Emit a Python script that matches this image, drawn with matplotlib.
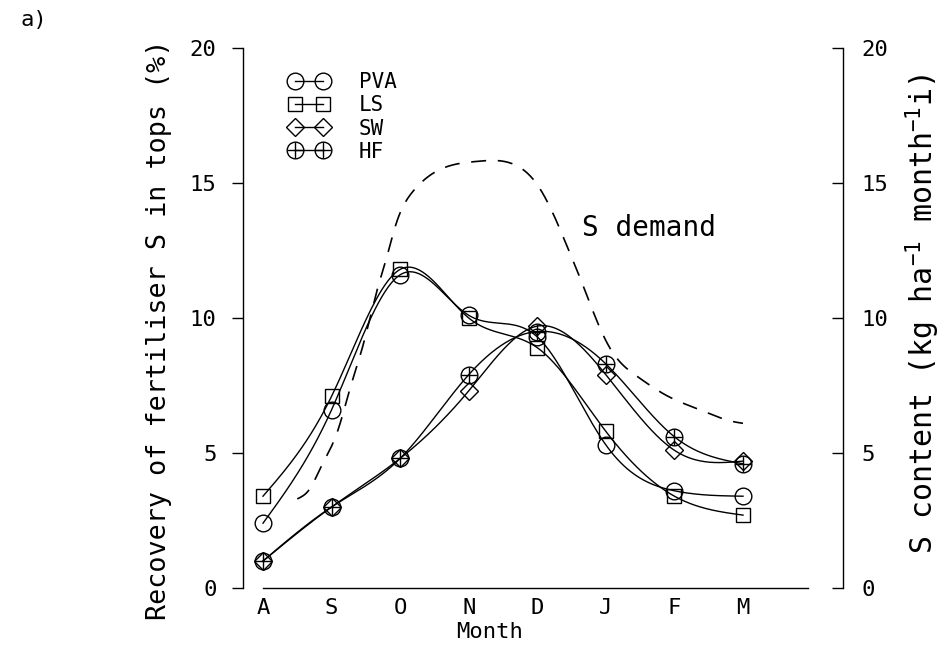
import numpy as np
import matplotlib
matplotlib.use("Agg")
import matplotlib.pyplot as plt
from matplotlib.lines import Line2D

# ---------------- data ----------------
months = ["A", "S", "O", "N", "D", "J", "F", "M"]
pva = [2.4, 6.6, 11.6, 10.1, 9.3, 5.3, 3.6, 3.4]
ls = [3.4, 7.1, 11.8, 10.0, 8.9, 5.8, 3.4, 2.7]
sw = [1.0, 3.0, 4.8, 7.3, 9.7, 7.9, 5.1, 4.7]
hf = [1.0, 3.0, 4.8, 7.9, 9.5, 8.3, 5.6, 4.6]

# S demand (right axis), read at month positions (index units)
demand_x = [0.50, 0.69, 0.83, 1.10, 1.27, 1.46, 1.66, 1.81, 1.93, 2.19, 2.58,
            3.12, 3.65, 4.01, 4.26, 4.46, 4.66, 4.86, 5.08, 5.45, 5.87, 6.37,
            6.88, 7.00]
demand_y = [3.3, 3.7, 4.4, 5.9, 7.4, 9.0, 11.0, 12.3, 13.4, 14.7, 15.5,
            15.8, 15.7, 14.9, 13.7, 12.5, 11.25, 9.95, 8.8, 7.85, 7.15, 6.6,
            6.15, 6.1]

left_ticks = [0, 5, 10, 15, 20]
right_ticks = [0, 5, 10, 15, 20]
series_labels = ["PVA", "LS", "SW", "HF"]


def natural_spline(x, y, n=300):
    x = np.asarray(x, float)
    y = np.asarray(y, float)
    N = len(x)
    h = np.diff(x)
    A = np.zeros((N, N))
    b = np.zeros(N)
    A[0, 0] = 1
    A[-1, -1] = 1
    for i in range(1, N - 1):
        A[i, i - 1] = h[i - 1]
        A[i, i] = 2 * (h[i - 1] + h[i])
        A[i, i + 1] = h[i]
        b[i] = 3 * ((y[i + 1] - y[i]) / h[i] - (y[i] - y[i - 1]) / h[i - 1])
    c = np.linalg.solve(A, b)
    xs = np.linspace(x[0], x[-1], n)
    idx = np.clip(np.searchsorted(x, xs) - 1, 0, N - 2)
    dx = xs - x[idx]
    bc = (y[1:] - y[:-1]) / h - h * (2 * c[:-1] + c[1:]) / 3
    d = (c[1:] - c[:-1]) / (3 * h)
    ys = y[idx] + bc[idx] * dx + c[idx] * dx ** 2 + d[idx] * dx ** 3
    return xs, ys


MONO = 'DejaVu Sans Mono'
plt.rcParams['font.family'] = [MONO, 'DejaVu Sans']
plt.rcParams['mathtext.fontset'] = 'custom'
plt.rcParams['mathtext.rm'] = MONO
plt.rcParams['mathtext.it'] = MONO
plt.rcParams['mathtext.bf'] = MONO

W, H = 947, 650
fig = plt.figure(figsize=(W / 100, H / 100), dpi=100)
ax = fig.add_axes([243 / W, 62 / H, 600 / W, 540 / H])

x = np.arange(len(months))
lw = 1.0
mk = dict(mfc='none', mec='black', mew=1.0, linestyle='none', zorder=3)

for vals in (pva, ls, sw, hf):
    xs, ys = natural_spline(x, vals)
    ax.plot(xs, ys, color='black', lw=lw, zorder=2)

ax.plot(x, pva, marker='o', ms=12, **mk)
ax.plot(x, ls, marker='s', ms=10.5, **mk)
ax.plot(x, sw, marker='D', ms=9.5, **mk)
ax.plot(x, hf, marker='o', ms=12, **mk)
ax.plot(x, hf, marker='+', ms=12, color='black', mew=1.0,
        linestyle='none', zorder=4)

ax2 = ax.twinx()
dxs, dys = natural_spline(demand_x, demand_y)
ax2.plot(dxs, dys, color='black', lw=1.2, linestyle=(0, (9, 7)))
ax2.text(4.65, 13.33, "S demand", fontsize=20, va='center', ha='left')

xmin = (243 - 263) / (480 / 7)
xmax = (843 - 263) / (480 / 7)
ax.set_xlim(xmin, xmax)
ax.set_ylim(0, 20)
ax2.set_ylim(0, 20)

ax.set_xticks(x)
ax.set_xticklabels(months, fontsize=16)
ax.tick_params(axis='x', length=0, pad=7)
ax.set_yticks(left_ticks)
ax.tick_params(axis='y', direction='out', length=8, width=1.0, labelsize=16, pad=11)
ax2.set_yticks(right_ticks)
ax2.tick_params(axis='y', direction='in', length=8, width=1.0, labelsize=16, pad=13)

for s in ('top', 'right'):
    ax.spines[s].set_visible(False)
for s in ('top', 'left', 'bottom'):
    ax2.spines[s].set_visible(False)
ax.spines['bottom'].set_bounds(0, (808 - 263) / (480 / 7))
for sp in (ax.spines['left'], ax.spines['bottom'], ax2.spines['right']):
    sp.set_linewidth(1.0)

fig.text(159 / W, 1 - 330 / H, "Recovery of fertiliser S in tops (%)",
         rotation=90, ha='center', va='center', fontsize=19.3)
fig.text(923 / W, 1 - 314 / H, "S content (kg ha$^{-1}$ month$^{-1}$i)",
         rotation=90, ha='center', va='center', fontsize=21.5)
fig.text(490 / W, 1 - 632 / H, "Month", ha='center', va='center', fontsize=16)
fig.text(20 / W, 1 - 10 / H, "a)", ha='left', va='top', fontsize=16)

hk = dict(color='black', lw=1.0, mfc='none', mec='black', mew=1.0)
handles = [
    Line2D([], [], marker='o', ms=12, **hk),
    Line2D([], [], marker='s', ms=10.5, **hk),
    Line2D([], [], marker='D', ms=9.5, **hk),
    (Line2D([], [], marker='o', ms=12, **hk),
     Line2D([], [], marker='+', ms=12, color='black', mew=1.0, linestyle='none')),
]
ax.legend(handles, series_labels, loc='upper left',
          bbox_to_anchor=(280 / W, 1 - 64 / H),
          bbox_transform=fig.transFigure, frameon=False,
          numpoints=2, handlelength=1.95, handletextpad=1.42,
          labelspacing=0.15, borderaxespad=0, fontsize=15)

fig.savefig("out.png", dpi=100)
